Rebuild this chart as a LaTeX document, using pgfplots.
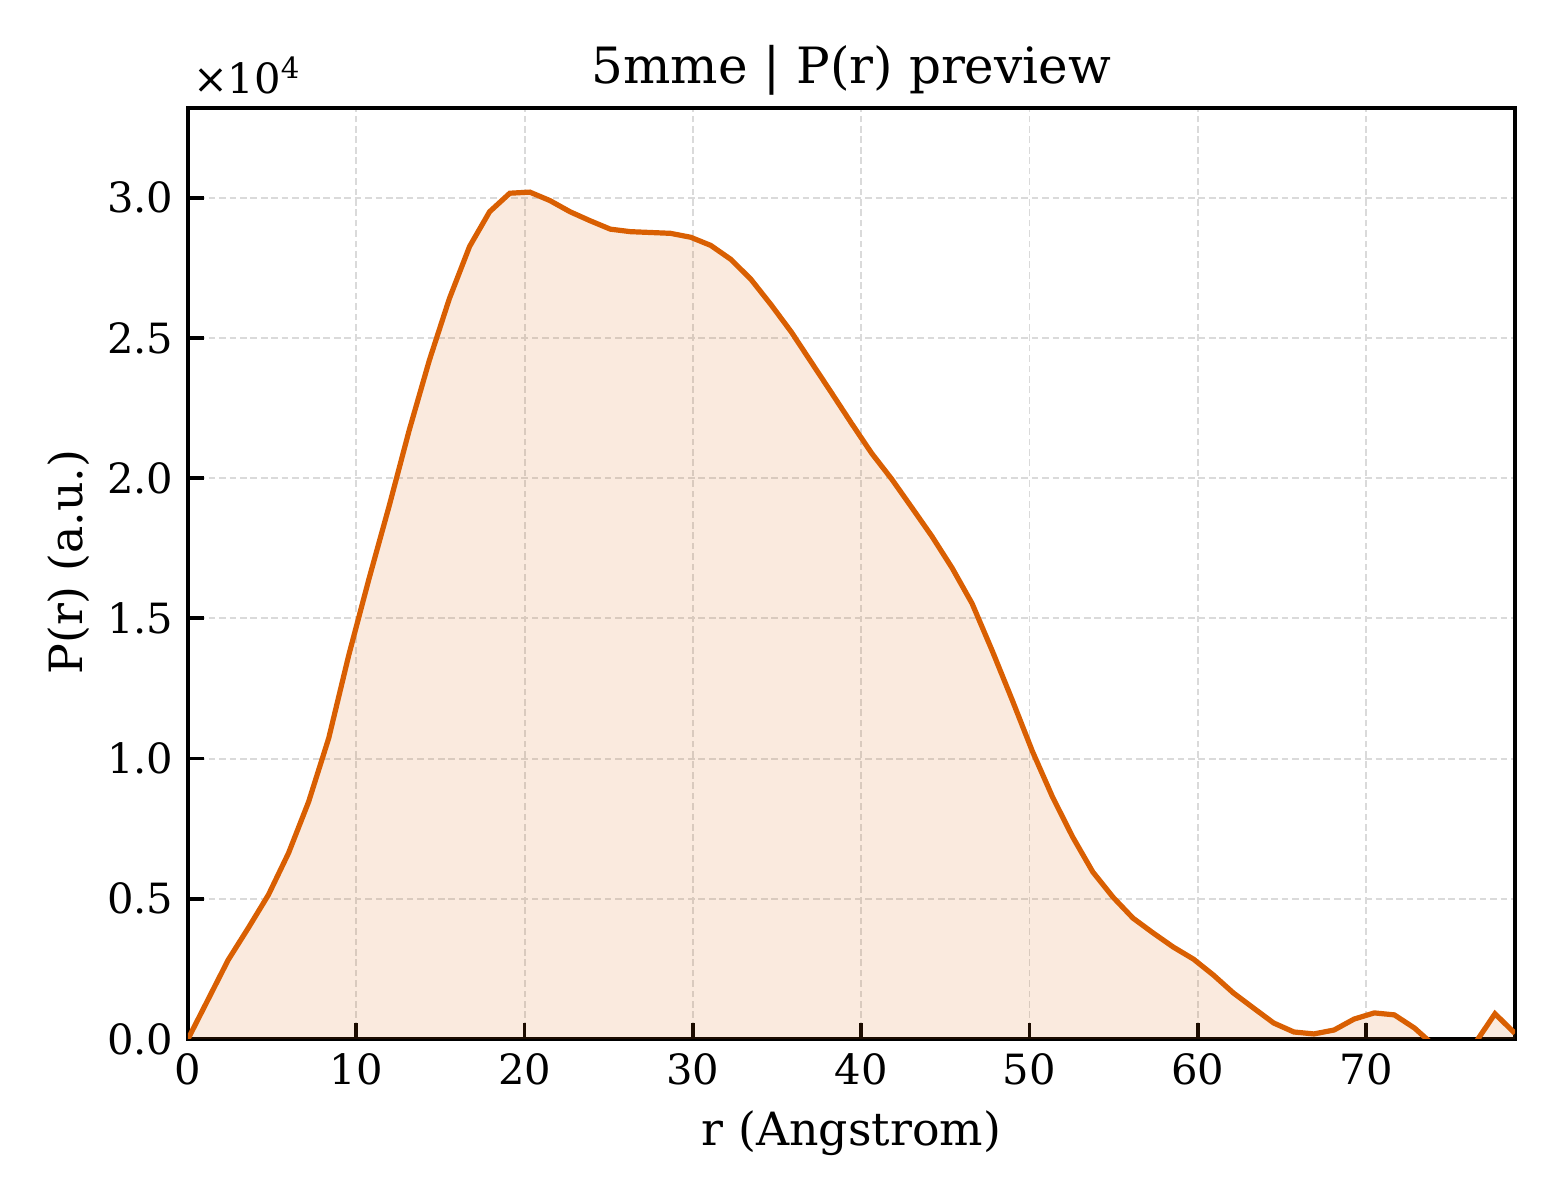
\documentclass[border=0pt]{standalone}
\usepackage{pgfplots}
\pgfplotsset{compat=1.18}
\usepackage{fontspec}
\setmainfont{DejaVu Serif}
\usetikzlibrary{calc}

\definecolor{prline}{RGB}{217,95,2}
\definecolor{gridgray}{RGB}{218,218,218}

\pgfplotstableread{
r y
0.000 0
1.195 1410
2.389 2820
3.584 3960
4.779 5140
5.974 6630
7.168 8460
8.363 10730
9.558 13700
10.75 16400
11.95 19000
13.14 21700
14.34 24200
15.53 26400
16.73 28260
17.92 29500
19.12 30160
20.31 30200
21.50 29900
22.70 29500
23.89 29180
25.09 28880
26.28 28790
27.48 28760
28.67 28730
29.87 28590
31.06 28300
32.26 27800
33.45 27090
34.65 26180
35.84 25220
37.04 24130
38.23 23050
39.43 21950
40.62 20890
41.81 19970
43.01 18950
44.20 17930
45.40 16800
46.59 15530
47.79 13840
48.98 12080
50.18 10250
51.37 8630
52.57 7200
53.76 5960
54.96 5060
56.15 4310
57.35 3780
58.54 3280
59.74 2850
60.93 2280
62.12 1640
63.32 1100
64.51 570
65.71 250
66.90 180
68.10 320
69.29 710
70.49 930
71.68 860
72.88 390
74.07 -250
75.27 -400
76.46 -170
77.66 900
78.85 200
}\prdata

\begin{document}
\begin{tikzpicture}
\begin{axis}[
    scale only axis,
    width=318.48pt, height=223.44pt,
    xmin=0, xmax=78.85,
    ymin=0, ymax=33200,
    xtick={0,10,...,70},
    ytick={0,5000,...,30000},
    scaled y ticks=base 10:-4,
    ytick scale label code/.code={×10\textsuperscript{4}},
    every y tick scale label/.style={at={(rel axis cs:0,1)}, anchor=south west,
        inner sep=0pt, xshift=1pt, yshift=3.2pt, font=\fontsize{10}{12}\selectfont},
    y tick label style={/pgf/number format/fixed, /pgf/number format/fixed zerofill,
        /pgf/number format/precision=1},
    /pgf/number format/assume math mode=true,
    tick label style={font=\fontsize{10}{12}\selectfont},
    tick align=inside,
    xtick pos=bottom, ytick pos=left,
    major tick length=3.8pt,
    every tick/.style={black, line width=0.9pt},
    axis line style={black, line width=0.95pt},
    grid=major,
    grid style={gridgray, line width=0.45pt, dash pattern=on 1.6pt off 0.9pt},
    xlabel={r (Angstrom)},
    ylabel={P(r) (a.u.)},
    label style={font=\fontsize{11}{13}\selectfont},
    xlabel style={at={($(rel axis cs:0.5,0)+(0,-28.2pt)$)}, anchor=base},
    ylabel style={at={($(rel axis cs:0,0.5)+(-25.4pt,0)$)}, anchor=base},
    title={5mme | P(r) preview},
    title style={at={($(rel axis cs:0.5,1)+(0,-2.8pt)$)}, anchor=base, yshift=0pt,
        font=\fontsize{12}{14}\selectfont},
]
\coordinate (bl) at (rel axis cs:0,0);
\coordinate (tr) at (rel axis cs:1,1);
\addplot[draw=none, fill=prline, fill opacity=0.13] table[x=r, y=y] {\prdata} \closedcycle;
\addplot[prline, line width=1.25pt] table[x=r, y=y] {\prdata};
\end{axis}
\pgfresetboundingbox
\path ($(bl)+(-45.12pt,-38.64pt)$) rectangle ($(tr)+(10.8pt,25.92pt)$);
\end{tikzpicture}
\end{document}
